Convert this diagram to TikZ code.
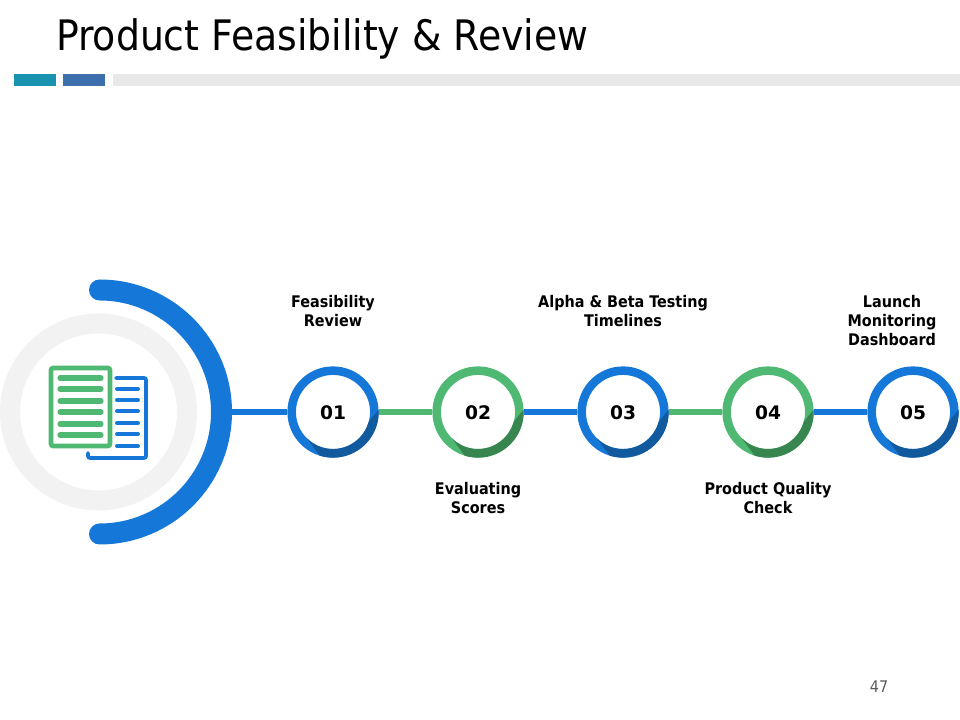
\documentclass[tikz,border=0pt]{standalone}
\usepackage{fontspec}
\setmainfont{DejaVu Sans}
\newfontfamily\titlefont{DejaVu Sans Condensed}
\usetikzlibrary{positioning,calc}
\definecolor{ringblue}{HTML}{1578D8}
\definecolor{ringdarkblue}{HTML}{125A9E}
\definecolor{ringgreen}{HTML}{4FB873}
\definecolor{ringdarkgreen}{HTML}{37864F}
\definecolor{barteal}{HTML}{1A93B0}
\definecolor{barblue}{HTML}{3E6FAD}
\definecolor{bargray}{HTML}{E8E8E8}
\definecolor{hubgray}{HTML}{F2F2F2}
\begin{document}
\begin{tikzpicture}[
    x=0.75pt, y=0.75pt,
    node distance=108.75pt,
    on grid,
    stepnode/.style={circle, draw=#1, line width=6.4pt, fill=white, minimum size=62pt, inner sep=0pt, text height=11.8pt, font=\bfseries\fontsize{14}{16}\selectfont},
    steplabel/.style={align=center, inner sep=0pt, font=\titlefont\bfseries\fontsize{12}{14.25}\selectfont},
    link/.style={line width=4.4pt, draw=#1},
    bar/.style={fill=#1, draw=none},
    sheetline/.style={line width=3.8pt, line cap=round, draw=ringgreen},
    backline/.style={line width=3pt, line cap=round, draw=ringblue}
]
    \useasboundingbox (0,0) rectangle (960,720);

    % Title and bars
    \node[anchor=west, inner sep=0pt, font=\titlefont\fontsize{31.5}{36}\selectfont] (title) at (56,681) {Product Feasibility \& Review};
    \fill[bar=barteal] (14,646) rectangle (56,634);
    \fill[bar=barblue] (63,646) rectangle (105,634);
    \fill[bar=bargray] (113,646) rectangle (960,634);

    % Hub
    \node[circle, minimum size=198.75pt, inner sep=0pt, outer sep=0pt] (hub) at (99.5,308) {};
    \draw[hubgray, line width=15pt] (98.5,308) circle[radius=88.5];
    \draw[ringblue, line width=15.75pt, line cap=round] (hub.center) ++(90:122) arc[start angle=90, end angle=-90, radius=122];

    % Icon
    \draw[ringblue, line width=2.8pt, line cap=round, rounded corners=1.5pt] (116,342) -- (146,342) -- (146,262) -- (88,262) -- (88,267);
    \foreach \y in {331,320,309,297,286,274} {
        \draw[backline] (117,\y) -- (138,\y);
    }
    \draw[ringgreen, line width=3.4pt, fill=white, rounded corners=1.5pt] (51,352) rectangle (110,274);
    \foreach \y in {342,331,319,308,296,285} {
        \draw[sheetline] (60,\y) -- (101,\y);
    }

    % Steps
    \node[stepnode=ringblue] (step1) at (333,308) {01};
    \node[stepnode=ringgreen, right=of step1] (step2) {02};
    \node[stepnode=ringblue, right=of step2] (step3) {03};
    \node[stepnode=ringgreen, right=of step3] (step4) {04};
    \node[stepnode=ringblue, right=of step4] (step5) {05};

    % Dark part of each ring
    \foreach \n/\c in {step1/ringdarkblue, step2/ringdarkgreen, step3/ringdarkblue, step4/ringdarkgreen, step5/ringdarkblue} {
        \fill[\c] (\n.center) ++(3:45.7) arc[start angle=3, end angle=-107, radius=45.7] -- ($(\n.center)+(-135:37)$) arc[start angle=-135, end angle=-15, radius=37] -- cycle;
    }

    % Links
    \draw[link=ringblue] (hub.east) -- (step1.west);
    \draw[link=ringgreen] (step1.east) -- (step2.west);
    \draw[link=ringblue] (step2.east) -- (step3.west);
    \draw[link=ringgreen] (step3.east) -- (step4.west);
    \draw[link=ringblue] (step4.east) -- (step5.west);

    % Labels
    \node[steplabel, above=53.25pt of step1.north, anchor=north] (label1) {Feasibility\\Review};
    \node[steplabel, below=18pt of step2.south, anchor=north] (label2) {Evaluating\\Scores};
    \node[steplabel, above=53.25pt of step3.north, anchor=north] (label3) {Alpha \& Beta Testing\\Timelines};
    \node[steplabel, below=18pt of step4.south, anchor=north] (label4) {Product Quality\\Check};
    \node[steplabel, above=53.25pt of step5.north, anchor=north, xshift=-15.75pt] (label5) {Launch\\Monitoring\\Dashboard};

    \node[text=black!65, inner sep=0pt, font=\titlefont\fontsize{12}{14}\selectfont] (pagenum) at (879,33) {47};
\end{tikzpicture}
\end{document}
